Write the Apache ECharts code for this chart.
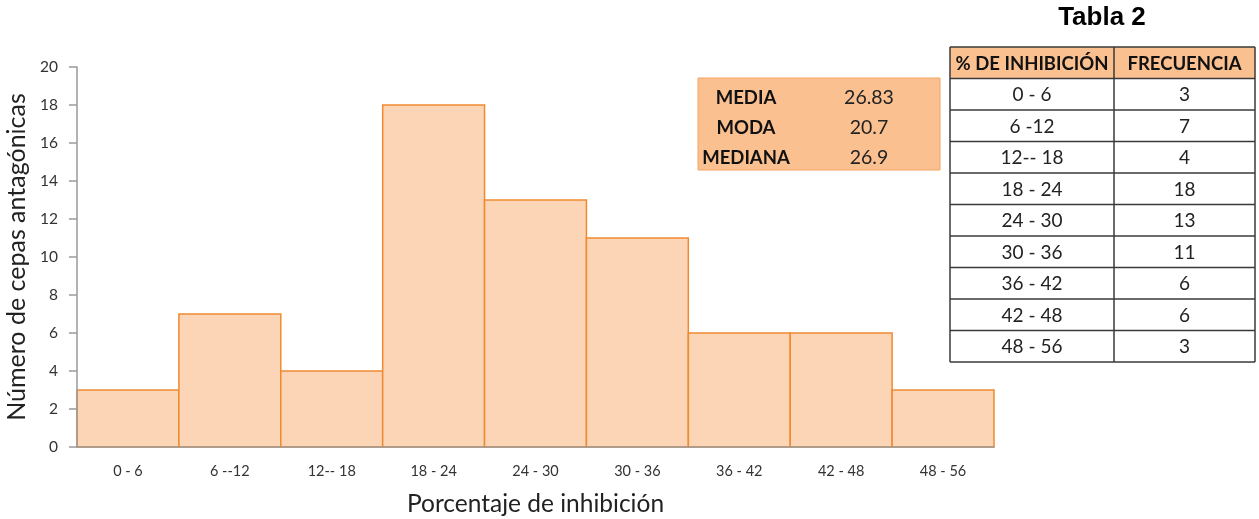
<!DOCTYPE html>
<html>
<head>
<meta charset="utf-8">
<style>
  html, body { margin: 0; padding: 0; background: #ffffff; }
  #chart { width: 1259px; height: 519px; }
</style>
<script src="https://cdn.jsdelivr.net/npm/echarts@6/dist/echarts.min.js"></script>
</head>
<body>
<div id="chart"></div>
<script>
// Frequency classes (% inhibition) and number of antagonistic strains
const categories = ['0 - 6', '6 --12', '12-- 18', '18 - 24', '24 - 30', '30 - 36', '36 - 42', '42 - 48', '48 - 56'];
const frequencies = [3, 7, 4, 18, 13, 11, 6, 6, 3];

// Labels used in the side table (same classes, written as in the table)
const tableClasses = ['0 - 6', '6 -12', '12-- 18', '18 - 24', '24 - 30', '30 - 36', '36 - 42', '42 - 48', '48 - 56'];
const tableHeader = ['% DE INHIBICIÓN', 'FRECUENCIA'];

// Summary statistics
const statNames = ['MEDIA', 'MODA', 'MEDIANA'];
const statValues = ['26.83', '20.7', '26.9'];

const yTicks = { min: 0, max: 20, interval: 2 };

const FONT = 'Lato, "Open Sans", sans-serif';
const chart = echarts.init(document.getElementById('chart'), null, { renderer: 'canvas' });

// ---- side table ----
const tX = 950, tY = 47, col1 = 164, col2 = 141, rowH = 31.5;
const graphics = [];
graphics.push({
  type: 'text', x: 1102, y: 18, z: 3,
  style: { text: 'Tabla 2', font: 'bold 26px "Liberation Sans", Arial, sans-serif', fill: '#000', align: 'center', verticalAlign: 'middle' }
});
// header background
graphics.push({
  type: 'rect', shape: { x: tX, y: tY, width: col1 + col2, height: rowH },
  style: { fill: '#FAC090' }, z: 1
});
const rows = [tableHeader].concat(tableClasses.map((c, i) => [c, String(frequencies[i])]));
rows.forEach((r, i) => {
  const cy = tY + rowH * i + rowH / 2;
  const bold = i === 0;
  graphics.push({
    type: 'text', x: tX + col1 / 2, y: cy + 1, z: 3,
    style: { text: r[0], font: (bold ? 'bold 18.5px ' : '19px ') + FONT, fill: bold ? '#111' : '#222', align: 'center', verticalAlign: 'middle' }
  });
  graphics.push({
    type: 'text', x: tX + col1 + col2 / 2, y: cy + 1, z: 3,
    style: { text: r[1], font: (bold ? 'bold 18.5px ' : '19px ') + FONT, fill: bold ? '#111' : '#222', align: 'center', verticalAlign: 'middle' }
  });
});
// grid lines of table
for (let i = 0; i <= rows.length; i++) {
  const y = tY + rowH * i;
  graphics.push({ type: 'line', z: 2, shape: { x1: tX, y1: y, x2: tX + col1 + col2, y2: y }, style: { stroke: '#3a3a3a', lineWidth: 1.5 } });
}
[tX, tX + col1, tX + col1 + col2].forEach(x => {
  graphics.push({ type: 'line', z: 2, shape: { x1: x, y1: tY, x2: x, y2: tY + rowH * rows.length }, style: { stroke: '#3a3a3a', lineWidth: 1.5 } });
});

// ---- statistics box ----
const sX = 698, sY = 78, sW = 242, sH = 92;
graphics.push({
  type: 'rect', z: 5, shape: { x: sX, y: sY, width: sW, height: sH },
  style: { fill: '#FAC090', stroke: '#F4A460', lineWidth: 1 }
});
statNames.forEach((n, i) => {
  const cy = sY + 20 + i * 30;
  graphics.push({
    type: 'text', z: 6, x: 746, y: cy,
    style: { text: n, font: 'bold 18.5px ' + FONT, fill: '#111', align: 'center', verticalAlign: 'middle' }
  });
  graphics.push({
    type: 'text', z: 6, x: 869, y: cy,
    style: { text: statValues[i], font: '19.5px ' + FONT, fill: '#222', align: 'center', verticalAlign: 'middle' }
  });
});

// Histogram bars: each class fills its whole band, touching its neighbours
function renderBar(params, api) {
  const idx = api.value(0);
  const top = api.coord([idx, api.value(1)]);
  const base = api.coord([idx, 0]);
  const w = api.size([1, 0])[0];
  return {
    type: 'rect',
    shape: { x: top[0] - w / 2, y: top[1], width: w, height: base[1] - top[1] },
    style: { fill: '#FBD5B5', stroke: '#F08A30', lineWidth: 1.5 }
  };
}

chart.setOption({
  animation: false,
  backgroundColor: '#ffffff',
  grid: { left: 77, right: 265, top: 67, bottom: 72, containLabel: false, outerBoundsMode: 'none' },
  xAxis: {
    type: 'category',
    data: categories,
    boundaryGap: true,
    name: 'Porcentaje de inhibición',
    nameLocation: 'middle',
    nameGap: 45,
    nameTextStyle: { fontFamily: FONT, fontSize: 24.5, color: '#222' },
    axisLine: { show: true, lineStyle: { color: '#9a9a9a', width: 1.5 } },
    axisTick: { show: false },
    axisLabel: { fontFamily: FONT, fontSize: 14.5, color: '#333', margin: 17 },
    splitLine: { show: false },
    z: 10
  },
  yAxis: {
    type: 'value',
    min: yTicks.min, max: yTicks.max, interval: yTicks.interval,
    name: 'Número de cepas antagónicas',
    nameLocation: 'middle',
    nameGap: 45,
    nameRotate: 90,
    nameTextStyle: { fontFamily: FONT, fontSize: 25, color: '#222' },
    axisLine: { show: true, lineStyle: { color: '#9a9a9a', width: 1.5 } },
    axisTick: { show: true, inside: false, length: 8, lineStyle: { color: '#9a9a9a', width: 1.5 } },
    axisLabel: { fontFamily: FONT, fontSize: 15.5, color: '#333', margin: 19 },
    splitLine: { show: false },
    z: 10
  },
  series: [{
    type: 'custom',
    renderItem: renderBar,
    encode: { x: 0, y: 1 },
    data: frequencies.map((v, i) => [i, v])
  }],
  graphic: graphics
});
</script>
</body>
</html>
